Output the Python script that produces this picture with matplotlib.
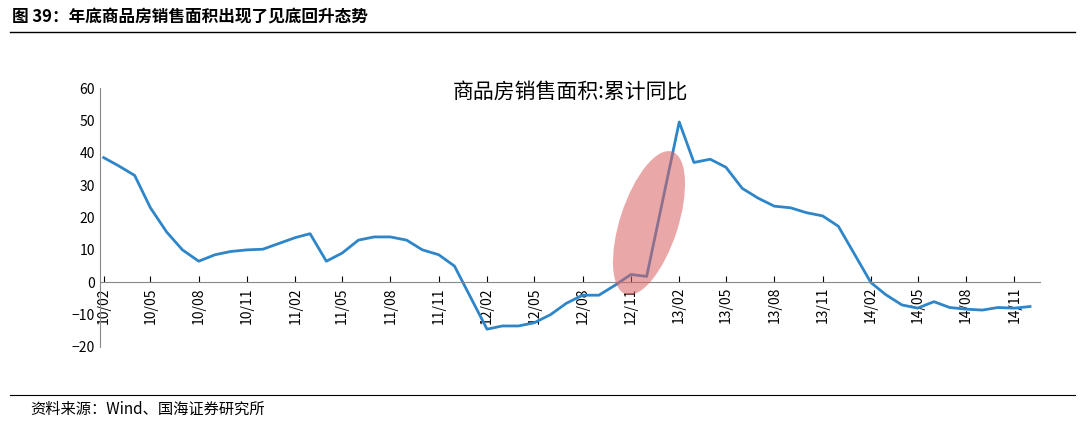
import pandas as pd
import numpy as np
import matplotlib.pyplot as plt
from matplotlib.patches import Ellipse
from matplotlib.transforms import IdentityTransform
import matplotlib.dates as mdates

plt.rcParams['font.family'] = 'Noto Sans CJK SC'

# months (January not published)
months = ['2010-02', '2010-03', '2010-04', '2010-05', '2010-06', '2010-07', '2010-08', '2010-09', '2010-10', '2010-11', '2010-12',
          '2011-02', '2011-03', '2011-04', '2011-05', '2011-06', '2011-07', '2011-08', '2011-09', '2011-10', '2011-11', '2011-12',
          '2012-02', '2012-03', '2012-04', '2012-05', '2012-06', '2012-07', '2012-08', '2012-09', '2012-10', '2012-11', '2012-12',
          '2013-02', '2013-03', '2013-04', '2013-05', '2013-06', '2013-07', '2013-08', '2013-09', '2013-10', '2013-11', '2013-12',
          '2014-02', '2014-03', '2014-04', '2014-05', '2014-06', '2014-07', '2014-08', '2014-09', '2014-10', '2014-11', '2014-12']
yoy = [38.5, 36, 33, 23, 15.5, 10, 6.5, 8.5, 9.5, 10, 10.2,
       13.8, 15, 6.5, 9, 13, 14, 14, 13, 10, 8.5, 5,
       -14.5, -13.5, -13.5, -12.5, -10, -6.5, -4, -4, -1, 2.4, 1.8,
       49.5, 37, 38, 35.5, 29, 26, 23.5, 23, 21.5, 20.5, 17.3,
       -0.1, -3.8, -7, -8, -6, -7.8, -8.3, -8.6, -7.8, -8, -7.5]
tick_months = pd.date_range('2010-02-01', '2014-11-01', freq='3MS')

dates = pd.to_datetime(months)

fig = plt.figure(figsize=(10.8, 4.24), dpi=100)
ax = fig.add_axes([100/1080, 1-347/424, 940/1080, 259/424])
ax.plot(dates, yoy, color='#2E86C9', linewidth=2)
ax.set_ylim(-20, 60)
ax.set_yticks(range(-20, 61, 10))
ax.set_xlim(pd.Timestamp('2010-01-25'), pd.Timestamp('2014-12-20'))
ax.set_xticks(tick_months)
ax.xaxis.set_major_formatter(mdates.DateFormatter('%y/%m'))
ax.tick_params(axis='x', labelrotation=90, labelsize=10, direction='in', length=4)
ax.tick_params(axis='y', labelsize=10, length=0)
for s in ['top', 'right']:
    ax.spines[s].set_visible(False)
ax.spines['bottom'].set_position(('data', 0))
ax.spines['bottom'].set_color('#888888')
ax.spines['left'].set_color('#888888')
ax.set_title('商品房销售面积:累计同比', fontsize=15, y=0.93)

ell = Ellipse((649, 201), 58, 150, angle=-18, transform=IdentityTransform(),
              facecolor='#D9605F', alpha=0.55, edgecolor='none')
fig.patches.append(ell)

fig.text(12/1080, 1-17/424, '图 39：年底商品房销售面积出现了见底回升态势', fontsize=12, fontweight='bold', va='center')
fig.add_artist(plt.Line2D([10/1080, 1075/1080], [1-32/424, 1-32/424], color='black', linewidth=1))
fig.add_artist(plt.Line2D([10/1080, 1075/1080], [1-395/424, 1-395/424], color='black', linewidth=0.8))
fig.text(30/1080, 1-409/424, '资料来源：Wind、国海证券研究所', fontsize=11, va='center')

plt.savefig('out.png', dpi=100)
